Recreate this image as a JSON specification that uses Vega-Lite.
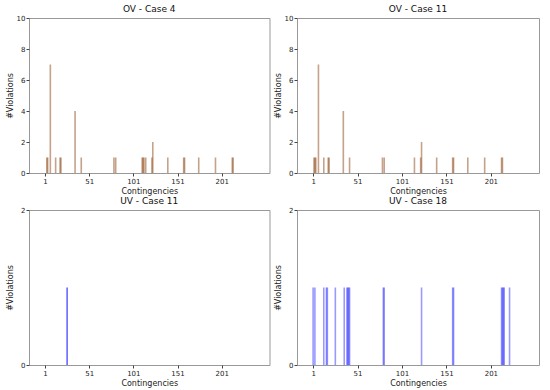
{
  "$schema": "https://vega.github.io/schema/vega-lite/v6.json",
  "padding": {"left": 6, "top": 4, "right": 3, "bottom": 2},
  "datasets": {
    "ov4": [
      {"contingency": 3, "violations": 1}, {"contingency": 4, "violations": 1},
      {"contingency": 7, "violations": 7}, {"contingency": 13, "violations": 1},
      {"contingency": 18, "violations": 1}, {"contingency": 19, "violations": 1},
      {"contingency": 35, "violations": 4}, {"contingency": 42, "violations": 1},
      {"contingency": 79, "violations": 1}, {"contingency": 81, "violations": 1},
      {"contingency": 111, "violations": 1}, {"contingency": 112, "violations": 1},
      {"contingency": 113, "violations": 1}, {"contingency": 115, "violations": 1},
      {"contingency": 122, "violations": 1}, {"contingency": 123, "violations": 2},
      {"contingency": 140, "violations": 1}, {"contingency": 158, "violations": 1},
      {"contingency": 159, "violations": 1}, {"contingency": 175, "violations": 1},
      {"contingency": 194, "violations": 1}, {"contingency": 213, "violations": 1},
      {"contingency": 214, "violations": 1}
    ],
    "ov11": [
      {"contingency": 2, "violations": 1}, {"contingency": 3, "violations": 1},
      {"contingency": 4, "violations": 1}, {"contingency": 7, "violations": 7},
      {"contingency": 13, "violations": 1}, {"contingency": 18, "violations": 1},
      {"contingency": 19, "violations": 1}, {"contingency": 35, "violations": 4},
      {"contingency": 42, "violations": 1}, {"contingency": 79, "violations": 1},
      {"contingency": 81, "violations": 1}, {"contingency": 115, "violations": 1},
      {"contingency": 122, "violations": 1}, {"contingency": 123, "violations": 2},
      {"contingency": 140, "violations": 1}, {"contingency": 158, "violations": 1},
      {"contingency": 159, "violations": 1}, {"contingency": 175, "violations": 1},
      {"contingency": 194, "violations": 1}, {"contingency": 213, "violations": 1},
      {"contingency": 214, "violations": 1}
    ],
    "uv11": [
      {"contingency": 26, "violations": 1}
    ],
    "uv18": [
      {"contingency": 1, "violations": 1}, {"contingency": 3, "violations": 1},
      {"contingency": 13, "violations": 1}, {"contingency": 16, "violations": 1},
      {"contingency": 17, "violations": 1}, {"contingency": 26, "violations": 1},
      {"contingency": 36, "violations": 1}, {"contingency": 39, "violations": 1},
      {"contingency": 40, "violations": 1}, {"contingency": 41, "violations": 1},
      {"contingency": 42, "violations": 1}, {"contingency": 80, "violations": 1},
      {"contingency": 81, "violations": 1}, {"contingency": 123, "violations": 1},
      {"contingency": 158, "violations": 1}, {"contingency": 159, "violations": 1},
      {"contingency": 213, "violations": 1}, {"contingency": 214, "violations": 1},
      {"contingency": 215, "violations": 1}, {"contingency": 216, "violations": 1},
      {"contingency": 222, "violations": 1}
    ]
  },
  "spacing": 0,
  "vconcat": [
    {
      "spacing": 4,
      "hconcat": [
        {
          "title": "OV - Case 4",
          "width": 240.5, "height": 155,
          "data": {"name": "ov4"},
          "mark": {"type": "bar", "size": 1.6, "color": "#8B4513", "opacity": 0.5},
          "encoding": {
            "x": {"field": "contingency", "type": "quantitative", "scale": {"domain": [-11.5, 249.5], "nice": false, "zero": false}, "axis": {"values": [1, 51, 101, 151, 201], "title": "Contingencies"}},
            "y": {"field": "violations", "type": "quantitative", "scale": {"domain": [0, 10], "nice": false}, "axis": {"values": [0, 2, 4, 6, 8, 10], "format": "d", "title": "#Violations"}}
          }
        },
        {
          "title": "OV - Case 11",
          "width": 242, "height": 155,
          "data": {"name": "ov11"},
          "mark": {"type": "bar", "size": 1.6, "color": "#8B4513", "opacity": 0.5},
          "encoding": {
            "x": {"field": "contingency", "type": "quantitative", "scale": {"domain": [-11.5, 249.5], "nice": false, "zero": false}, "axis": {"values": [1, 51, 101, 151, 201], "title": "Contingencies"}},
            "y": {"field": "violations", "type": "quantitative", "scale": {"domain": [0, 10], "nice": false}, "axis": {"values": [0, 2, 4, 6, 8, 10], "format": "d", "title": "#Violations"}}
          }
        }
      ]
    },
    {
      "spacing": 4,
      "hconcat": [
        {
          "title": "UV - Case 11",
          "width": 240.5, "height": 155,
          "data": {"name": "uv11"},
          "mark": {"type": "bar", "size": 1.6, "color": "#0000ff", "opacity": 0.6},
          "encoding": {
            "x": {"field": "contingency", "type": "quantitative", "scale": {"domain": [-11.5, 249.5], "nice": false, "zero": false}, "axis": {"values": [1, 51, 101, 151, 201], "title": "Contingencies"}},
            "y": {"field": "violations", "type": "quantitative", "scale": {"domain": [0, 2], "nice": false}, "axis": {"values": [0, 1, 2], "format": "d", "title": "#Violations"}}
          }
        },
        {
          "title": "UV - Case 18",
          "width": 242, "height": 155,
          "data": {"name": "uv18"},
          "mark": {"type": "bar", "size": 1.6, "color": "#0000ff", "opacity": 0.4},
          "encoding": {
            "x": {"field": "contingency", "type": "quantitative", "scale": {"domain": [-11.5, 249.5], "nice": false, "zero": false}, "axis": {"values": [1, 51, 101, 151, 201], "title": "Contingencies"}},
            "y": {"field": "violations", "type": "quantitative", "scale": {"domain": [0, 2], "nice": false}, "axis": {"values": [0, 1, 2], "format": "d", "title": "#Violations"}}
          }
        }
      ]
    }
  ],
  "config": {
    "font": "DejaVu Sans",
    "view": {"stroke": "#999999", "strokeWidth": 1},
    "axis": {
      "grid": false, "domain": false,
      "tickColor": "#444444", "tickSize": 3,
      "labelFont": "DejaVu Sans", "labelFontSize": 7, "labelColor": "#222222", "labelPadding": 1,
      "titleFont": "DejaVu Sans", "titleFontSize": 8, "titleFontWeight": "normal", "titleColor": "#222222", "titlePadding": 1.5
    },
    "axisX": {"titlePadding": 3},
    "axisY": {"minExtent": 13},
    "title": {"font": "DejaVu Sans", "fontSize": 9, "fontWeight": "normal", "offset": 0.5, "color": "#111111"}
  }
}
